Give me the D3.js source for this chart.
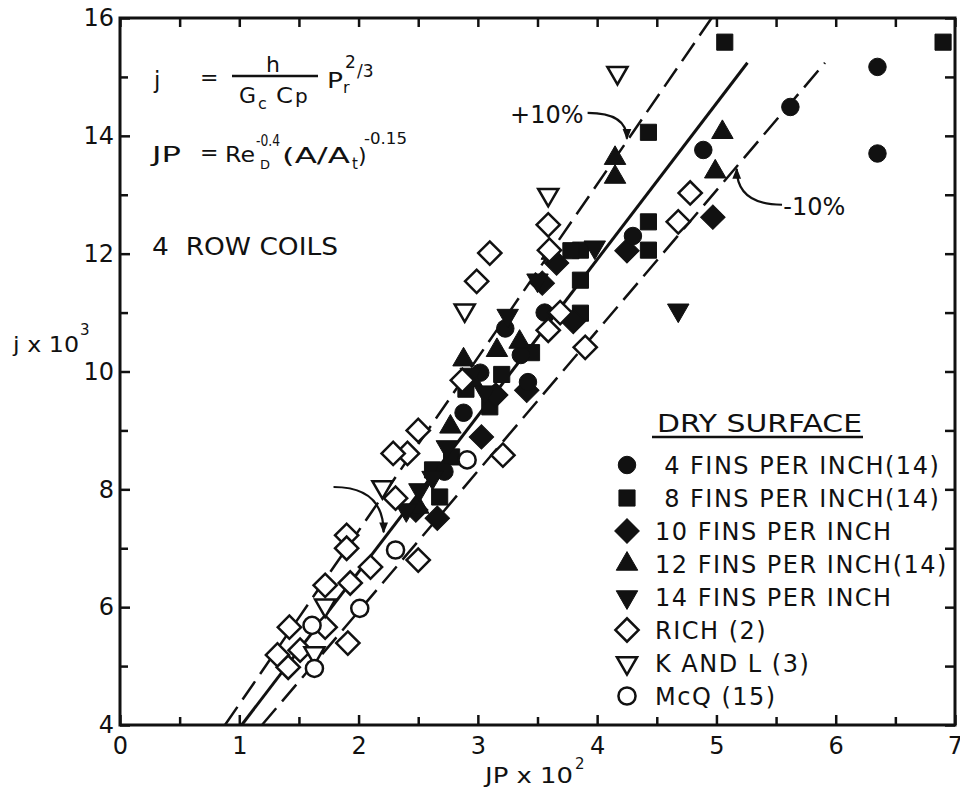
<!DOCTYPE html>
<meta charset="utf-8">
<style>
body { margin: 0; background: #fff; }
text { font-family: "DejaVu Sans", sans-serif; fill: #111; }
</style>
<body>
<script src="https://d3js.org/d3.v7.min.js"></script>
<script>

// ---- data (JP x 10^2, j x 10^3) ----
var fins4 = [[5.62,14.49],[6.35,15.17],[6.35,13.70],[4.89,13.76],[4.30,12.30],[3.23,10.73],
             [3.36,10.28],[3.42,9.82],[3.02,9.98],[2.88,9.30],[2.72,8.30],[3.56,11.00]];
var fins8 = [[5.07,15.59],[6.90,15.59],[4.43,14.06],[4.43,12.54],[4.43,12.06],[3.86,12.06],
             [3.86,11.55],[3.86,10.99],[3.78,12.05],[3.45,10.32],[3.10,9.40],[2.62,8.33],
             [2.68,7.87],[2.90,9.70],[3.20,9.95],[2.78,8.55]];
var fins10 = [[4.97,12.62],[4.25,12.05],[3.66,11.84],[3.54,11.50],[3.03,8.89],[2.66,7.51],
              [3.41,9.68],[3.80,10.85],[3.15,9.60],[2.48,7.65]];
var fins12 = [[5.05,14.06],[4.99,13.39],[4.15,13.62],[4.15,13.30],[3.62,12.01],[2.77,9.06],
              [3.16,10.36],[2.95,9.85],[3.35,10.50],[2.50,7.70],[2.88,10.20]];
var fins14 = [[4.68,11.04],[3.98,12.11],[2.51,7.99],[2.74,8.72],[3.06,9.65],[2.94,9.95],
              [3.50,11.55],[2.40,7.65],[3.25,10.95],[2.62,8.20]];
var rich = [[3.10,12.01],[2.99,11.53],[3.59,12.49],[3.60,12.06],[4.78,13.03],[4.68,12.54],
            [3.90,10.41],[3.69,11.00],[3.59,10.70],[3.21,8.58],[2.87,9.85],[2.50,9.00],
            [2.41,8.61],[2.29,8.61],[2.31,7.85],[1.90,7.22],[1.90,7.00],[2.10,6.68],
            [1.93,6.41],[1.72,6.37],[1.42,5.66],[1.72,5.66],[1.32,5.19],[1.51,5.27],
            [1.41,4.98],[1.91,5.39],[2.50,6.80]];
var kandl = [[4.17,15.07],[3.59,13.00],[2.89,11.04],[2.20,8.04],[1.72,6.03],[1.63,5.22]];
var mcq = [[2.01,5.98],[1.61,5.69],[1.63,4.96],[2.31,6.97],[2.91,8.50]];

// correlation line and +/-10% band (end points)
var fitLine = [[1.02,4],[5.26,15.24]];
var plus10 = [[0.88,4],[4.96,16]];
var minus10 = [[1.19,4],[5.91,15.24]];

var xTicks = [0,1,2,3,4,5,6,7];
var xMinor = [0.5,1.5,2.5,3.5,4.5,5.5,6.5];
var yTicks = [4,6,8,10,12,14,16];
var yMinor = [5,7,9,11,13,15];

var legendLabels = [" 4 FINS PER INCH(14)", " 8 FINS PER INCH(14)", "10 FINS PER INCH",
                    "12 FINS PER INCH(14)", "14 FINS PER INCH", "RICH (2)",
                    "K AND L (3)", "McQ (15)"];

// ---- layout ----
var margin = {top: 18, right: 5, bottom: 74, left: 120},
    width = 960 - margin.left - margin.right,
    height = 799 - margin.top - margin.bottom;

var x = d3.scaleLinear().domain([0, 7]).range([0, width]);
var y = d3.scaleLinear().domain([4, 16]).range([height, 0]);

var svg = d3.select("body").append("svg")
    .attr("width", 960)
    .attr("height", 799);

svg.append("defs").append("marker")
    .attr("id", "arrow")
    .attr("viewBox", "0 0 10 10")
    .attr("refX", 9).attr("refY", 5)
    .attr("markerWidth", 5).attr("markerHeight", 5)
    .attr("orient", "auto")
  .append("path")
    .attr("d", "M0,1 L10,5 L0,9 Z")
    .attr("fill", "#111");

var g = svg.append("g")
    .attr("transform", "translate(" + margin.left + "," + margin.top + ")");

// ---- axes (ticks point inward) ----
function styleAxis(sel) {
  sel.select(".domain").remove();
  sel.selectAll(".tick line").attr("stroke", "#111").attr("stroke-width", 2.5);
  sel.selectAll("text").style("font-size", "24px").attr("fill", "#111");
}

g.append("g")
    .attr("transform", "translate(0," + height + ")")
    .call(d3.axisBottom(x).tickValues(xTicks).tickSize(-10).tickPadding(12).tickFormat(d3.format("d")))
    .call(styleAxis);
g.append("g")
    .attr("transform", "translate(0," + height + ")")
    .call(d3.axisBottom(x).tickValues(xMinor).tickSize(-8).tickFormat(""))
    .call(styleAxis);
g.append("g")
    .call(d3.axisTop(x).tickValues(xTicks.concat(xMinor)).tickSize(-9).tickFormat(""))
    .call(styleAxis);

g.append("g")
    .call(d3.axisLeft(y).tickValues(yTicks).tickSize(-10).tickPadding(6).tickFormat(d3.format("d")))
    .call(styleAxis);
g.append("g")
    .call(d3.axisLeft(y).tickValues(yMinor).tickSize(-8).tickFormat(""))
    .call(styleAxis);
g.append("g")
    .attr("transform", "translate(" + width + ",0)")
    .call(d3.axisRight(y).tickValues(yTicks.concat(yMinor)).tickSize(-10).tickFormat(""))
    .call(styleAxis);

g.append("rect")
    .attr("width", width).attr("height", height)
    .attr("fill", "none").attr("stroke", "#111").attr("stroke-width", 3);

// ---- correlation lines ----
var line = d3.line().x(function(d) { return x(d[0]); }).y(function(d) { return y(d[1]); });

g.append("path").datum(fitLine).attr("d", line)
    .attr("stroke", "#111").attr("stroke-width", 3).attr("fill", "none");
[plus10, minus10].forEach(function(band) {
  g.append("path").datum(band).attr("d", line)
      .attr("stroke", "#111").attr("stroke-width", 2.5).attr("fill", "none")
      .attr("stroke-dasharray", "22,9");
});

// ---- points ----
var series = [
  {data: fins8,  type: d3.symbolSquare,   size: 260, rot: 0,   filled: true},
  {data: fins10, type: d3.symbolSquare,   size: 300, rot: 45,  filled: true},
  {data: fins4,  type: d3.symbolCircle,   size: 240, rot: 0,   filled: true},
  {data: fins12, type: d3.symbolTriangle, size: 200, rot: 0,   filled: true},
  {data: fins14, type: d3.symbolTriangle, size: 200, rot: 180, filled: true},
  {data: rich,   type: d3.symbolSquare,   size: 270, rot: 45,  filled: false},
  {data: kandl,  type: d3.symbolTriangle, size: 175, rot: 180, filled: false},
  {data: mcq,    type: d3.symbolCircle,   size: 230, rot: 0,   filled: false}
];

series.forEach(function(s) {
  g.selectAll(null)
      .data(s.data)
    .enter().append("path")
      .attr("d", d3.symbol().type(s.type).size(s.size))
      .attr("transform", function(d) {
        return "translate(" + x(d[0]) + "," + y(d[1]) + ") rotate(" + s.rot + ")";
      })
      .attr("fill", s.filled ? "#111" : "#fff")
      .attr("stroke", "#111")
      .attr("stroke-width", s.filled ? 1 : 2.5);
});

// ---- annotations: +/-10% arrows ----
var arrows = [
  {from: [3.92,14.39], to: [4.25,13.95]},
  {from: [5.55,12.83], to: [5.17,13.44]},
  {from: [1.79,8.04],  to: [2.21,7.27]}
];
arrows.forEach(function(a) {
  var x0 = x(a.from[0]), y0 = y(a.from[1]), x1 = x(a.to[0]), y1 = y(a.to[1]);
  g.append("path")
      .attr("d", "M" + x0 + "," + y0 + " Q" + x1 + "," + y0 + " " + x1 + "," + y1)
      .attr("fill", "none").attr("stroke", "#111").attr("stroke-width", 2.2)
      .attr("marker-end", "url(#arrow)");
});

g.append("text").attr("x", x(3.27)).attr("y", y(14.22))
    .style("font-size", "24px").text("+10%");
g.append("text").attr("x", x(5.56)).attr("y", y(12.82) + 10)
    .style("font-size", "24px").text("-10%");

// ---- formula block ----
function txt(px, py, size, s, len) {
  var t = svg.append("text").attr("x", px).attr("y", py).style("font-size", size + "px").text(s);
  if (len) t.attr("textLength", len).attr("lengthAdjust", "spacingAndGlyphs");
  return t;
}
txt(154, 88, 23, "j");
txt(200, 85, 22, "=");
txt(266, 72, 22, "h");
svg.append("line").attr("x1", 232).attr("x2", 318).attr("y1", 76).attr("y2", 76)
    .attr("stroke", "#111").attr("stroke-width", 2.5);
txt(239, 103, 22, "G", 17);
txt(258, 109, 16, "c");
txt(276, 103, 22, "C", 17);
txt(295, 103, 20, "p");
txt(327, 88, 22, "P", 16);
txt(343, 93, 16, "r");
txt(345, 68, 17, "2");
txt(357, 77, 17, "/3");

txt(152, 162, 22, "JP", 29);
txt(200, 160, 22, "=");
txt(225, 162, 22, "Re", 30);
txt(256, 146, 15, "-0.4", 24);
txt(260, 169, 13, "D");
txt(282, 163, 22, "(A/A", 68);
txt(352, 169, 15, "t");
txt(358, 163, 22, ")");
txt(364, 144, 15, "-0.15", 43);

txt(152, 255, 24, "4  ROW COILS", 186).style("white-space", "pre");

// ---- axis titles ----
txt(13, 352, 21, "j x 10", 66);
txt(80, 335, 15, "3");
txt(485, 783, 21, "JP x 10", 88);
txt(575, 769, 15, "2");

// ---- legend ----
var legendX = 627, legendTop = 465, legendStep = 33;
txt(657, 432, 24, "DRY SURFACE", 205);
svg.append("line").attr("x1", 652).attr("x2", 863).attr("y1", 437).attr("y2", 437)
    .attr("stroke", "#111").attr("stroke-width", 2.5);

var legendOrder = [2, 0, 1, 3, 4, 5, 6, 7];
legendOrder.forEach(function(si, i) {
  var s = series[si], cy = legendTop + i * legendStep;
  svg.append("path")
      .attr("d", d3.symbol().type(s.type).size(s.size))
      .attr("transform", "translate(" + legendX + "," + cy + ") rotate(" + s.rot + ")")
      .attr("fill", s.filled ? "#111" : "#fff")
      .attr("stroke", "#111")
      .attr("stroke-width", s.filled ? 1 : 2.5);
  txt(655, cy + 9, 24, legendLabels[i])
      .style("white-space", "pre")
      .style("letter-spacing", "1.5px");
});

</script>
</body>
